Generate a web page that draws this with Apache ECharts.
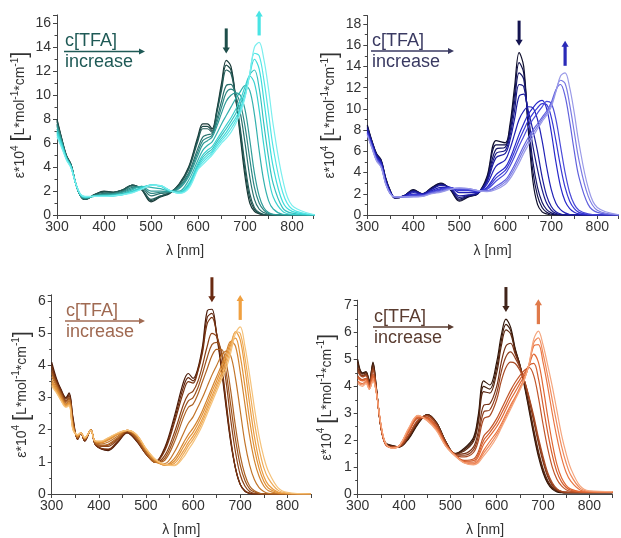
<!DOCTYPE html>
<html><head><meta charset="utf-8">
<script src="https://cdn.jsdelivr.net/npm/echarts@6/dist/echarts.min.js"></script>
<style>html,body{margin:0;padding:0;background:#fff}#c{width:621px;height:538px}</style>
</head><body><div id="c"></div><script>
// ---------- data ----------
const wlA = [300,310,320,330,340,350,360,380,400,420,440,460,480,500,520,540,560,580,600,610,620,630,640,650,660,670,680,690,700,710,720,730,740,750,760,780,800,850];
const teal0 = [8.0,6.4,5.0,4.2,2.6,1.6,1.3,1.7,2.0,1.9,2.1,2.5,2.1,1.1,1.5,1.8, 2.6,4.0,6.6,7.6,7.6,7.2,8.8,11.0,12.9,12.4,9.8,6.5,3.2,1.0,0.3,0.1,0,0,0,0,0,0];
const tealA = [7.9,6.35,4.95,4.2,2.6,1.6,1.3,1.7,1.95,1.9,2.1,2.5,2.15,1.2,1.55,1.85, 2.55,3.9,6.4,7.4,7.4,7.05,8.65,10.7,12.5,12.1,9.8,6.85,3.7,1.4,0.45,0.15,0.02,0,0,0,0,0];
const teal1 = [7.8,6.3,4.9,4.2,2.6,1.6,1.3,1.7,1.9,1.9,2.1,2.5,2.2,1.3,1.6,1.9, 2.5,3.8,6.2,7.2,7.2,6.9,8.5,10.4,12.1,11.8,9.8,7.2,4.2,1.8,0.6,0.2,0.05,0,0,0,0,0];
const teal2 = [7.6,6.2,4.9,4.1,2.6,1.6,1.35,1.65,1.8,1.8,2.0,2.4,2.3,1.6,1.8,1.9, 2.4,3.5,5.6,6.5,6.7,6.8,8.0,9.5,10.8,10.9,10.0,8.5,6.0,3.2,1.3,0.5,0.2,0.05,0,0,0,0];
const tealB = [7.5,6.15,4.85,4.1,2.6,1.6,1.38,1.62,1.75,1.78,1.95,2.3,2.35,1.8,1.9,1.92, 2.3,3.35,5.3,6.2,6.45,6.65,7.7,9.0,10.2,10.5,10.2,9.3,7.4,4.7,2.3,1.0,0.4,0.12,0.03,0,0,0];
const teal3 = [7.4,6.1,4.8,4.1,2.6,1.6,1.4,1.6,1.7,1.75,1.9,2.2,2.4,2.0,2.0,1.95, 2.2,3.2,5.0,5.9,6.2,6.5,7.4,8.5,9.5,10.0,10.2,10.0,8.8,6.3,3.5,1.6,0.6,0.2,0.05,0,0,0];
const teal4 = [7.2,6.0,4.8,4.0,2.6,1.65,1.45,1.6,1.65,1.7,1.8,2.1,2.4,2.3,2.2,2.0, 2.0,2.9,4.6,5.4,5.8,6.1,6.8,7.6,8.3,9.0,9.7,10.3,10.8,10.4,8.4,5.4,2.8,1.2,0.5,0.05,0,0];
const tealC = [6.9,5.85,4.7,4.0,2.6,1.7,1.5,1.55,1.58,1.62,1.72,1.95,2.25,2.5,2.42,2.02, 1.88,2.5,4.15,4.8,5.2,5.5,6.1,6.65,7.2,7.8,8.45,9.25,10.3,11.7,12.1,10.6,7.6,4.8,2.6,0.6,0.15,0];
const teal5 = [7.0,5.9,4.7,4.0,2.6,1.7,1.5,1.55,1.6,1.65,1.75,2.0,2.3,2.5,2.4,2.0, 1.9,2.6,4.3,5.0,5.4,5.7,6.3,6.9,7.5,8.1,8.8,9.6,10.7,11.6,11.0,8.8,5.8,3.2,1.5,0.3,0.05,0];
const teal6 = [6.8,5.8,4.7,4.0,2.6,1.7,1.5,1.55,1.55,1.6,1.7,1.9,2.2,2.5,2.45,2.05, 1.85,2.4,4.0,4.6,5.0,5.3,5.9,6.4,6.9,7.5,8.1,8.9,10.0,11.7,13.0,12.2,9.6,6.6,4.0,1.1,0.3,0];
const tealD = [6.65,5.7,4.65,3.95,2.6,1.72,1.52,1.55,1.55,1.6,1.7,1.88,2.18,2.5,2.45,2.05, 1.82,2.3,3.9,4.4,4.8,5.15,5.7,6.2,6.65,7.2,7.85,8.7,9.9,11.75,13.5,13.3,11.3,8.5,5.6,1.9,0.5,0];
const teal7 = [6.5,5.6,4.6,3.9,2.6,1.75,1.55,1.55,1.55,1.6,1.7,1.85,2.15,2.5,2.45,2.05, 1.8,2.2,3.8,4.2,4.6,5.0,5.5,6.0,6.4,6.9,7.6,8.5,9.8,11.8,14.0,14.4,13.0,10.5,7.5,3.0,0.8,0];

const blue0 = [8.5,7.0,5.8,5.2,3.5,2.3,1.6,1.8,2.4,2.0,2.6,3.0,2.4,1.3,1.7,2.0, 3.6,7.0,6.8,8.5,12.0,15.3,14.0,8.0,3.2,1.0,0.3,0.1,0,0,0,0,0,0,0,0,0,0];
const blueA = [8.4,6.95,5.75,5.15,3.45,2.25,1.6,1.8,2.35,2.0,2.55,2.95,2.45,1.4,1.75,2.0, 3.45,6.6,6.6,8.15,11.3,14.35,13.4,8.4,4.1,1.8,0.7,0.25,0.08,0,0,0,0,0,0,0,0,0];
const blue1 = [8.3,6.9,5.7,5.1,3.4,2.2,1.6,1.8,2.3,2.0,2.5,2.9,2.5,1.5,1.8,2.0, 3.3,6.2,6.4,7.8,10.6,13.4,12.8,8.8,5.0,2.6,1.2,0.5,0.2,0.05,0,0,0,0,0,0,0,0];
const blueB = [8.2,6.85,5.65,5.05,3.35,2.2,1.62,1.8,2.25,2.0,2.45,2.85,2.55,1.65,1.85,2.05, 3.2,5.8,6.1,7.4,9.8,12.3,12.1,9.3,6.5,4.3,2.4,1.1,0.45,0.15,0.05,0,0,0,0,0,0,0];
const blue2 = [8.1,6.8,5.6,5.0,3.3,2.2,1.65,1.8,2.2,2.0,2.4,2.8,2.6,1.8,1.9,2.1, 3.1,5.4,5.8,7.0,9.0,11.2,11.4,9.8,8.0,6.0,3.6,1.8,0.8,0.3,0.1,0,0,0,0,0,0,0];
const blue3 = [7.9,6.7,5.5,4.9,3.2,2.1,1.65,1.75,2.1,1.95,2.3,2.6,2.6,2.1,2.1,2.1, 2.9,4.6,5.2,6.2,7.6,9.0,9.8,10.2,10.1,9.0,7.0,4.5,2.4,1.1,0.5,0.2,0.05,0,0,0,0,0];
const blue4 = [7.8,6.6,5.4,4.8,3.1,2.1,1.7,1.75,1.95,1.9,2.2,2.5,2.6,2.3,2.3,2.2, 2.6,3.8,4.5,5.3,6.4,7.6,8.6,9.5,10.1,10.6,10.8,10.0,7.8,5.0,2.7,1.3,0.6,0.25,0.1,0,0,0];
const blueC = [7.75,6.55,5.35,4.75,3.05,2.05,1.7,1.73,1.9,1.88,2.18,2.42,2.58,2.35,2.35,2.22, 2.5,3.5,4.2,4.95,5.95,7.05,8.0,8.9,9.55,10.1,10.5,10.4,9.2,7.0,4.6,2.6,1.3,0.6,0.25,0.05,0,0];
const blue5 = [7.7,6.5,5.3,4.7,3.0,2.0,1.7,1.72,1.85,1.85,2.15,2.35,2.55,2.4,2.4,2.25, 2.4,3.2,3.9,4.6,5.5,6.5,7.4,8.3,9.0,9.6,10.2,10.7,10.5,9.0,6.5,4.0,2.1,1.0,0.45,0.1,0,0];
const blue6 = [7.6,6.4,5.2,4.6,3.0,2.0,1.7,1.7,1.75,1.8,2.1,2.25,2.5,2.5,2.45,2.3, 2.3,2.7,3.3,3.9,4.7,5.6,6.5,7.3,8.0,8.6,9.2,9.8,10.6,11.8,12.3,11.2,8.8,6.0,3.6,1.0,0.25,0];
const blueD = [7.55,6.35,5.15,4.55,2.95,2.0,1.7,1.7,1.72,1.78,2.05,2.2,2.45,2.52,2.48,2.3, 2.25,2.55,3.1,3.65,4.4,5.25,6.15,6.95,7.7,8.35,9.0,9.6,10.4,11.7,12.7,12.4,10.4,7.8,5.2,1.8,0.45,0];
const blue7 = [7.5,6.3,5.1,4.5,2.9,2.0,1.7,1.7,1.7,1.75,2.0,2.15,2.4,2.55,2.5,2.3, 2.2,2.4,2.9,3.4,4.1,4.9,5.8,6.6,7.4,8.1,8.8,9.4,10.2,11.6,13.1,13.4,12.0,9.6,6.8,2.6,0.7,0];

const wl3 = [300,310,320,330,337,345,355,362,370,383,392,405,420,440,460,480,500,520,540,560,580,590,600,610,620,630,640,650,660,670,680,690,700,710,720,730,740,750,760,780,800,850];
const brown0 = [4.1,3.6,3.25,3.0,3.15,2.4,1.7,1.9,1.65,2.0, 1.55,1.4,1.35,1.6,1.9,1.65,1.25,1.0,1.45,2.4, 3.5,3.75,3.6,3.9,4.6,5.7,5.75,4.95,3.9,2.7, 1.6,0.8,0.3,0.08,0.02,0,0,0,0,0, 0,0];
const brownA = [4.02,3.55,3.22,2.98,3.1,2.35,1.7,1.9,1.65,2.0, 1.55,1.41,1.38,1.62,1.91,1.66,1.25,1.0,1.4,2.3, 3.35,3.62,3.52,3.85,4.5,5.5,5.62,4.98,4.0,2.8, 1.65,0.8,0.3,0.09,0.02,0,0,0,0,0, 0,0];
const brown1 = [3.95,3.5,3.2,2.95,3.05,2.3,1.7,1.9,1.65,2.0, 1.55,1.42,1.4,1.65,1.92,1.68,1.25,1.0,1.35,2.2, 3.2,3.5,3.45,3.8,4.4,5.3,5.5,5.0,4.1,2.9, 1.7,0.8,0.3,0.1,0.02,0,0,0,0,0, 0,0];
const brown2 = [3.85,3.45,3.15,2.9,3.0,2.25,1.72,1.9,1.68,2.0, 1.58,1.48,1.48,1.7,1.95,1.7,1.25,0.98,1.2,1.9, 2.8,3.1,3.2,3.5,4.0,4.6,5.0,4.9,4.4,3.5, 2.3,1.3,0.6,0.25,0.08,0.02,0,0,0,0, 0,0];
const brownB = [3.8,3.42,3.12,2.88,2.98,2.22,1.74,1.9,1.69,2.0, 1.59,1.5,1.52,1.72,1.96,1.72,1.28,0.98,1.12,1.75, 2.6,2.9,3.0,3.3,3.75,4.25,4.65,4.72,4.45,3.8, 2.75,1.7,0.9,0.42,0.16,0.06,0.02,0,0,0, 0,0];
const brown3 = [3.75,3.4,3.1,2.85,2.95,2.2,1.75,1.9,1.7,2.0, 1.6,1.52,1.55,1.75,1.97,1.75,1.3,0.98,1.05,1.6, 2.4,2.7,2.8,3.1,3.5,3.9,4.3,4.5,4.5,4.1, 3.2,2.1,1.2,0.6,0.25,0.1,0.03,0,0,0, 0,0];
const brown4 = [3.65,3.35,3.05,2.8,2.9,2.15,1.78,1.9,1.72,2.0, 1.62,1.56,1.62,1.8,1.98,1.8,1.35,1.0,0.95,1.3, 1.9,2.2,2.4,2.7,3.0,3.35,3.7,4.0,4.3,4.45, 4.3,3.6,2.6,1.6,0.9,0.45,0.2,0.08,0.02,0, 0,0];
const brown5 = [3.55,3.3,3.0,2.78,2.85,2.1,1.8,1.9,1.73,2.0, 1.63,1.6,1.68,1.85,1.98,1.82,1.38,1.03,0.9,1.1, 1.6,1.85,2.05,2.3,2.6,2.95,3.3,3.65,4.0,4.4, 4.75,4.6,3.8,2.8,1.8,1.05,0.55,0.25,0.1,0.02, 0,0];
const brownC = [3.5,3.25,2.98,2.77,2.82,2.08,1.81,1.9,1.74,1.99, 1.64,1.61,1.7,1.86,1.98,1.83,1.39,1.05,0.9,1.02, 1.48,1.72,1.92,2.18,2.48,2.82,3.18,3.52,3.88,4.28, 4.72,4.85,4.3,3.35,2.3,1.42,0.8,0.4,0.18,0.04, 0.01,0];
const brown6 = [3.45,3.2,2.95,2.75,2.8,2.05,1.82,1.9,1.74,1.98, 1.64,1.62,1.72,1.88,1.98,1.84,1.4,1.06,0.9,0.95, 1.35,1.6,1.8,2.05,2.35,2.7,3.05,3.4,3.75,4.15, 4.65,5.05,4.8,3.9,2.8,1.8,1.05,0.55,0.28,0.06, 0.01,0];
const brownD = [3.4,3.18,2.92,2.72,2.78,2.02,1.84,1.9,1.75,1.98, 1.65,1.64,1.74,1.89,1.98,1.85,1.41,1.07,0.91,0.9, 1.25,1.5,1.7,1.95,2.25,2.6,2.95,3.3,3.65,4.02, 4.52,5.05,5.0,4.25,3.25,2.25,1.42,0.82,0.48,0.12, 0.03,0];
const brown7 = [3.35,3.15,2.9,2.7,2.75,2.0,1.85,1.9,1.75,1.98, 1.65,1.65,1.75,1.9,1.98,1.85,1.42,1.08,0.92,0.88, 1.15,1.38,1.6,1.85,2.15,2.5,2.85,3.2,3.55,3.9, 4.4,5.0,5.2,4.6,3.7,2.7,1.8,1.15,0.7,0.2, 0.05,0];

const wl4 = [300,310,318,325,333,340,350,360,375,390,410,430,450,470,490,510,530,550,560,572,585,600,610,620,630,640,650,660,670,680,690,700,710,720,730,740,750,760,780,800,850];
const rust0 = [5.0,4.5,4.55,4.2,4.9,4.0,2.5,1.9,1.8,1.75, 2.05,2.6,2.95,2.65,1.95,1.5,1.7,2.1,2.9,4.2, 4.05,4.9,5.9,6.5,6.2,5.4,4.8,4.0,3.1,2.2, 1.4,0.8,0.4,0.18,0.08,0.05,0.04,0.04,0.04,0.04, 0.04];
const rustA = [4.92,4.48,4.52,4.18,4.85,3.98,2.5,1.89,1.79,1.75, 2.08,2.62,2.95,2.65,1.95,1.5,1.65,2.02,2.75,4.0, 3.9,4.7,5.7,6.3,6.08,5.35,4.8,4.05,3.2,2.3, 1.5,0.88,0.45,0.22,0.1,0.06,0.05,0.05,0.05,0.05, 0.05];
const rust1 = [4.85,4.45,4.5,4.15,4.8,3.95,2.5,1.88,1.78,1.75, 2.1,2.65,2.95,2.65,1.95,1.5,1.6,1.95,2.6,3.8, 3.75,4.5,5.5,6.1,5.95,5.3,4.8,4.1,3.3,2.4, 1.6,0.95,0.5,0.25,0.12,0.07,0.05,0.05,0.05,0.05, 0.05];
const rust2 = [4.7,4.4,4.45,4.1,4.7,3.9,2.5,1.86,1.76,1.76, 2.15,2.7,2.92,2.62,1.93,1.48,1.5,1.75,2.3,3.3, 3.35,4.0,4.9,5.5,5.6,5.2,4.75,4.2,3.5,2.7, 1.9,1.2,0.65,0.32,0.15,0.08,0.06,0.06,0.06,0.06, 0.06];
const rustB = [4.62,4.38,4.42,4.08,4.65,3.9,2.5,1.85,1.75,1.77, 2.18,2.72,2.91,2.6,1.92,1.46,1.44,1.65,2.12,3.05, 3.12,3.75,4.55,5.1,5.28,5.05,4.7,4.2,3.55,2.8, 2.0,1.3,0.72,0.36,0.17,0.09,0.07,0.06,0.06,0.06, 0.06];
const rust3 = [4.55,4.35,4.4,4.05,4.6,3.9,2.5,1.85,1.75,1.77, 2.2,2.75,2.9,2.58,1.9,1.45,1.38,1.55,1.95,2.8, 2.9,3.5,4.2,4.7,4.9,4.85,4.6,4.2,3.6,2.9, 2.1,1.4,0.8,0.42,0.2,0.1,0.07,0.06,0.06,0.06, 0.06];
const rust4 = [4.4,4.25,4.3,4.0,4.45,3.85,2.55,1.85,1.73,1.78, 2.3,2.82,2.85,2.5,1.85,1.45,1.25,1.3,1.55,2.15, 2.4,2.8,3.15,3.5,3.85,4.15,4.4,4.6,4.7,4.4, 3.6,2.6,1.7,1.0,0.55,0.3,0.16,0.1,0.07,0.07, 0.07];
const rustC = [4.35,4.22,4.28,3.98,4.4,3.82,2.55,1.85,1.72,1.79, 2.32,2.84,2.82,2.48,1.83,1.45,1.22,1.24,1.46,2.0, 2.28,2.65,2.98,3.32,3.68,3.98,4.25,4.5,4.78,4.85, 4.3,3.3,2.3,1.45,0.82,0.45,0.24,0.14,0.08,0.07, 0.07];
const rust5 = [4.3,4.2,4.25,3.95,4.35,3.8,2.55,1.86,1.72,1.8, 2.35,2.86,2.8,2.45,1.82,1.45,1.2,1.18,1.38,1.85, 2.15,2.5,2.8,3.15,3.5,3.8,4.1,4.4,4.8,5.2, 4.9,4.0,2.9,1.9,1.1,0.6,0.32,0.18,0.09,0.08, 0.08];
const rust6 = [4.2,4.1,4.2,3.9,4.25,3.8,2.6,1.88,1.71,1.8, 2.4,2.9,2.75,2.4,1.8,1.43,1.17,1.12,1.25,1.62, 1.95,2.3,2.6,2.95,3.3,3.6,3.95,4.3,4.8,5.5, 5.55,4.9,4.0,3.0,2.1,1.35,0.8,0.48,0.15,0.09, 0.08];
const rustD = [4.15,4.05,4.15,3.9,4.22,3.8,2.6,1.89,1.7,1.8, 2.42,2.91,2.73,2.38,1.79,1.42,1.16,1.1,1.2,1.52, 1.82,2.2,2.52,2.88,3.22,3.55,3.9,4.28,4.82,5.62, 5.8,5.22,4.4,3.5,2.6,1.78,1.15,0.7,0.22,0.1, 0.08];
const rust7 = [4.1,4.0,4.1,3.9,4.2,3.8,2.6,1.9,1.7,1.8, 2.45,2.92,2.72,2.35,1.78,1.42,1.15,1.08,1.15,1.42, 1.7,2.1,2.45,2.8,3.15,3.5,3.85,4.25,4.85,5.75, 6.05,5.55,4.8,4.0,3.1,2.2,1.5,0.95,0.3,0.12, 0.09];

const xTickLabels = [300,400,500,600,700,800];
const annTop = 'c[TFA]';
const annBottom = 'increase';
const xName = 'λ [nm]';

// ---------- styling / layout ----------
const FONT = "'Liberation Sans', Arial, sans-serif";
const panels = [
  { wl: wlA, lines: [teal0,tealA,teal1,teal2,tealB,teal3,teal4,tealC,teal5,teal6,tealD,teal7],
    stops: ['#1a3a38','#21534f','#2a7470','#2f9692','#34b6b3','#38cfcd','#3fe0e0','#7aeeee'],
    grid: {left:57, top:14.9, width:256.2, height:200.1}, xMax:845, yMax:16.7, yInt:2, nameGap:27,
    ann: {x:65, y:51.5, x2:145, color:'#1f5a56'}, down:'#1e4e4a', up:'#48e4e4' },
  { wl: wlA, lines: [blue0,blueA,blue1,blueB,blue2,blue3,blue4,blueC,blue5,blue6,blueD,blue7],
    stops: ['#0d0d2a','#14145a','#1a1a8a','#1f1fb0','#2a2ad0','#4848d8','#6a6ae0','#9a9ae8'],
    grid: {left:367.3, top:15.5, width:253.4, height:199.5}, xMax:845, yMax:18.8, yInt:2, nameGap:27,
    ann: {x:372, y:51, x2:454, color:'#3a3a62'}, down:'#141450', up:'#2a2ab8' },
  { wl: wl3, lines: [brown0,brownA,brown1,brown2,brownB,brown3,brown4,brown5,brownC,brown6,brownD,brown7],
    stops: ['#4a1a08','#6e2c0e','#8e4418','#a85e22','#c87a2c','#e08f34','#eca044','#f5c27a'],
    grid: {left:51.7, top:294.8, width:259.2, height:200.9}, xMax:850, yMax:6.2, yInt:1, nameGap:20,
    ann: {x:66, y:321, x2:145, color:'#a06a52'}, down:'#6a2a12', up:'#f0a040' },
  { wl: wl4, lines: [rust0,rustA,rust1,rust2,rustB,rust3,rust4,rustC,rust5,rust6,rustD,rust7],
    stops: ['#2e1408','#4e220e','#7a3418','#a04622','#c8582a','#e06632','#ec7a48','#f5a67e'],
    grid: {left:357.7, top:300.2, width:254.8, height:196.1}, xMax:850, yMax:7.2, yInt:1, nameGap:21,
    ann: {x:374, y:327, x2:454, color:'#5a3c30'}, down:'#40241a', up:'#e07a4a' }
];

function hex2rgb(h){ return [1,3,5].map(i => parseInt(h.slice(i, i+2), 16)); }
function gradientColor(stops, t){
  const f = t * (stops.length - 1), i = Math.min(Math.floor(f), stops.length - 2), u = f - i;
  const a = hex2rgb(stops[i]), b = hex2rgb(stops[i+1]);
  return 'rgb(' + a.map((v, j) => Math.round(v + (b[j] - v) * u)).join(',') + ')';
}

const axisCol = '#444';
const grids = [], xAxes = [], yAxes = [], series = [];
panels.forEach((p, k) => {
  grids.push(Object.assign({containLabel:false}, p.grid));
  xAxes.push({
    type:'value', gridIndex:k, min:300, max:p.xMax, interval:100,
    name: xName, nameLocation:'middle', nameGap:29,
    nameTextStyle:{fontFamily:FONT, fontSize:14, color:'#333'},
    axisLine:{lineStyle:{color:axisCol, width:1}},
    axisTick:{show:true, length:4, lineStyle:{color:axisCol}},
    minorTick:{show:true, splitNumber:2, length:4, lineStyle:{color:axisCol}},
    splitLine:{show:false},
    axisLabel:{fontFamily:FONT, fontSize:14, color:'#333', margin:5,
      formatter: v => xTickLabels.includes(v) ? String(v) : ''}
  });
  yAxes.push({
    type:'value', gridIndex:k, min:0, max:p.yMax, interval:p.yInt,
    name:'{e|ε*10}{s|4}{e| }{b|[}{e|L*mol}{s|-1}{e|*cm}{s|-1}{b|]}',
    nameLocation:'middle', nameGap:p.nameGap, nameRotate:90,
    nameTextStyle:{fontFamily:FONT, color:'#333', rich:{
      e:{fontFamily:FONT, fontSize:14, color:'#333'},
      s:{fontFamily:FONT, fontSize:10, color:'#333', verticalAlign:'top'},
      b:{fontFamily:FONT, fontSize:22, color:'#333', lineHeight:20}
    }},
    axisLine:{show:true, lineStyle:{color:axisCol, width:1}},
    axisTick:{show:true, length:4, lineStyle:{color:axisCol}},
    minorTick:{show:true, splitNumber:2, length:2.5, lineStyle:{color:axisCol}},
    splitLine:{show:false},
    axisLabel:{fontFamily:FONT, fontSize:14, color:'#333', margin:6,
      formatter: v => (Math.abs(v - Math.round(v)) < 1e-6 && Math.round(v) % p.yInt === 0) ? String(Math.round(v)) : ''}
  });
  const n = p.lines.length;
  p.lines.forEach((arr, i) => {
    series.push({
      type:'line', xAxisIndex:k, yAxisIndex:k, smooth:0.35, showSymbol:false, symbol:'none',
      clip:true, silent:true,
      lineStyle:{color:gradientColor(p.stops, i / (n - 1)), width:1.2},
      data: p.wl.map((x, j) => [x, arr[j]])
    });
  });
});

const chart = echarts.init(document.getElementById('c'), null, {renderer:'canvas'});
chart.setOption({animation:false, backgroundColor:'#fff', grid:grids, xAxis:xAxes, yAxis:yAxes, series:series});

// ---------- annotations ----------
const graphics = [];
function vArrow(x, yTail, yHead, color, w) {
  const dir = yHead > yTail ? 1 : -1;
  const hl = 6, hw = 3.6;
  graphics.push({type:'line', silent:true, z:100, shape:{x1:x, y1:yTail, x2:x, y2:yHead - dir*hl*0.6},
    style:{stroke:color, lineWidth:w}});
  graphics.push({type:'polygon', silent:true, z:100,
    shape:{points:[[x-hw, yHead - dir*hl],[x+hw, yHead - dir*hl],[x, yHead]]}, style:{fill:color}});
}
function argmax(a){ let m=0; a.forEach((v,i)=>{ if(v>a[m]) m=i; }); return m; }

panels.forEach((p, k) => {
  const a = p.ann;
  graphics.push({type:'text', silent:true, z:100, style:{text:annTop, x:a.x, y:a.y - 1, fill:a.color,
    font:'18px ' + FONT, textAlign:'left', textVerticalAlign:'bottom', align:'left', verticalAlign:'bottom'}});
  graphics.push({type:'text', silent:true, z:100, style:{text:annBottom, x:a.x, y:a.y + 2, fill:a.color,
    font:'18px ' + FONT, textAlign:'left', textVerticalAlign:'top', align:'left', verticalAlign:'top'}});
  graphics.push({type:'line', silent:true, z:100, shape:{x1:a.x - 1, y1:a.y, x2:a.x2 - 4, y2:a.y},
    style:{stroke:a.color, lineWidth:1.3}});
  graphics.push({type:'polygon', silent:true, z:100,
    shape:{points:[[a.x2 - 6, a.y - 3],[a.x2 - 6, a.y + 3],[a.x2, a.y]]}, style:{fill:a.color}});

  const first = p.lines[0], last = p.lines[p.lines.length - 1];
  const i0 = argmax(first), i1 = argmax(last);
  const pt0 = chart.convertToPixel({gridIndex:k}, [p.wl[i0], first[i0]]);
  const pt1 = chart.convertToPixel({gridIndex:k}, [p.wl[i1], last[i1]]);
  const gap = 7, len = 25;
  vArrow(pt0[0], pt0[1] - gap - len, pt0[1] - gap, p.down, 3);
  vArrow(pt1[0], pt1[1] - gap, pt1[1] - gap - len, p.up, 3.2);
});
chart.setOption({graphic: graphics});
</script></body></html>
